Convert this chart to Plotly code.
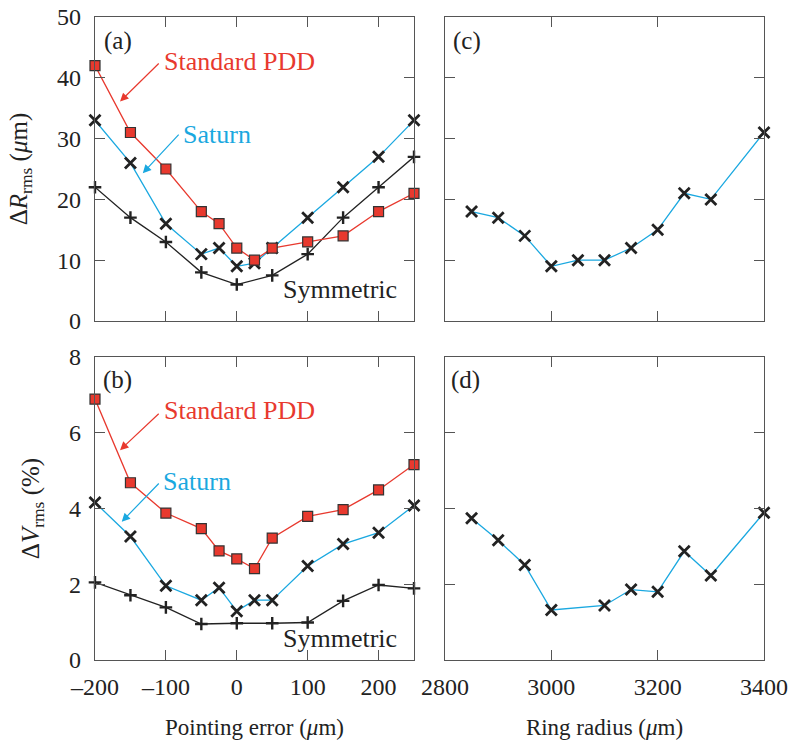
import plotly.graph_objects as go
from plotly.subplots import make_subplots

# ---------------- data ----------------
pe_x = [-200, -150, -100, -50, -25, 0, 25, 50, 100, 150, 200, 250]
sym_x = [-200, -150, -100, -50, 0, 50, 100, 150, 200, 250]

a_pdd = [42, 31, 25, 18, 16, 12, 10, 12, 13, 14, 18, 21]
a_saturn = [33, 26, 16, 11, 12, 9, 9.5, 12, 17, 22, 27, 33]
a_sym = [22, 17, 13, 8, 6, 7.5, 11, 17, 22, 27]

b_pdd = [6.89, 4.68, 3.88, 3.47, 2.88, 2.67, 2.41, 3.22, 3.79, 3.97, 4.49, 5.16]
b_saturn = [4.16, 3.26, 1.96, 1.58, 1.91, 1.29, 1.58, 1.58, 2.48, 3.06, 3.36, 4.08]
b_sym = [2.05, 1.71, 1.39, 0.95, 0.97, 0.97, 0.99, 1.56, 1.98, 1.89]

c_x = [2850, 2900, 2950, 3000, 3050, 3100, 3150, 3200, 3250, 3300, 3400]
c_y = [18, 17, 14, 9, 10, 10, 12, 15, 21, 20, 31]

d_x = [2850, 2900, 2950, 3000, 3100, 3150, 3200, 3250, 3300, 3400]
d_y = [3.74, 3.16, 2.51, 1.32, 1.44, 1.86, 1.80, 2.87, 2.23, 3.89]

pe_ticks = [-200, -100, 0, 100, 200]
pe_ticktext = ["–200", "–100", "0", "100", "200"]
rr_ticks = [2800, 3000, 3200, 3400]

RED = "#e8392e"
BLUE = "#1aa8e0"
BLACK = "#222222"
FONT = "Liberation Serif"

fig = make_subplots(rows=2, cols=2)

def add_pdd(x, y, r, c):
    fig.add_trace(go.Scatter(x=x, y=y, mode="lines+markers",
                             line=dict(color=RED, width=1.3),
                             marker=dict(symbol="square", size=10, color=RED,
                                         line=dict(color="#333333", width=1.2)),
                             cliponaxis=False, showlegend=False), row=r, col=c)

def add_saturn(x, y, r, c):
    fig.add_trace(go.Scatter(x=x, y=y, mode="lines+markers",
                             line=dict(color=BLUE, width=1.3),
                             marker=dict(symbol="x-thin", size=11, color=BLACK,
                                         line=dict(color=BLACK, width=2.8)),
                             cliponaxis=False, showlegend=False), row=r, col=c)

def add_sym(x, y, r, c):
    fig.add_trace(go.Scatter(x=x, y=y, mode="lines+markers",
                             line=dict(color=BLACK, width=1.3),
                             marker=dict(symbol="cross-thin", size=9, color=BLACK,
                                         line=dict(color=BLACK, width=2.4)),
                             cliponaxis=False, showlegend=False), row=r, col=c)

add_sym(sym_x, a_sym, 1, 1)
add_saturn(pe_x, a_saturn, 1, 1)
add_pdd(pe_x, a_pdd, 1, 1)
add_sym(sym_x, b_sym, 2, 1)
add_saturn(pe_x, b_saturn, 2, 1)
add_pdd(pe_x, b_pdd, 2, 1)
add_saturn(c_x, c_y, 1, 2)
add_saturn(d_x, d_y, 2, 2)

# full-window figure 788x744 (body margin removed in post_script)
xl = [95 / 788, 414 / 788]
xr = [445 / 788, 764 / 788]
yt = [1 - 321 / 744, 1 - 17 / 744]
yb = [1 - 660 / 744, 1 - 357 / 744]

common = dict(showline=True, mirror="ticks", ticks="inside", ticklen=10,
              linecolor="#555555", tickcolor="#555555", linewidth=1.2, tickwidth=1.2,
              showgrid=False, zeroline=False, automargin=False,
              ticklabeloverflow="allow",
              tickfont=dict(family=FONT, size=24, color=BLACK))

title_font = dict(family=FONT, size=23, color=BLACK)

fig.update_layout(
    xaxis=dict(domain=xl, range=[-200, 250], tickvals=pe_ticks, ticktext=pe_ticktext,
               showticklabels=False, anchor="y", **common),
    xaxis2=dict(domain=xr, range=[2800, 3400], tickvals=rr_ticks,
                showticklabels=False, anchor="y2", **common),
    xaxis3=dict(domain=xl, range=[-200, 250], tickvals=pe_ticks, ticktext=pe_ticktext,
                anchor="y3", ticklabelstandoff=5,
                title=dict(text="Pointing error (<i>μ</i>m)", font=title_font, standoff=19),
                **common),
    xaxis4=dict(domain=xr, range=[2800, 3400], tickvals=rr_ticks, anchor="y4",
                ticklabelstandoff=5,
                title=dict(text="Ring radius (<i>μ</i>m)", font=title_font, standoff=19),
                **common),
    yaxis=dict(domain=yt, range=[0, 50], dtick=10, anchor="x", ticklabelstandoff=8,
               title=dict(text="Δ<i>R</i><sub>rms</sub> (<i>μ</i>m)", font=dict(family=FONT, size=25, color=BLACK), standoff=22),
               **common),
    yaxis2=dict(domain=yt, range=[0, 50], dtick=10, anchor="x2", showticklabels=False, **common),
    yaxis3=dict(domain=yb, range=[0, 8], dtick=2, anchor="x3", ticklabelstandoff=8,
                title=dict(text="Δ<i>V</i><sub>rms</sub> (%)", font=dict(family=FONT, size=25, color=BLACK), standoff=22),
                **common),
    yaxis4=dict(domain=yb, range=[0, 8], dtick=2, anchor="x4", showticklabels=False, **common),
)

def text_ann(x, y, xref, yref, text, color, size=26):
    fig.add_annotation(x=x, y=y, xref=xref, yref=yref, text=text, showarrow=False,
                       xanchor="left", yanchor="middle",
                       font=dict(family=FONT, size=size, color=color))

def arrow_ann(x, y, ax, ay, xref, yref, color):
    fig.add_annotation(x=x, y=y, ax=ax, ay=ay, xref=xref, yref=yref, axref=xref, ayref=yref,
                       text="", showarrow=True, arrowhead=2, arrowsize=1.4, arrowwidth=1.2,
                       arrowcolor=color, standoff=0)

# panel (a)
text_ann(-190, 46, "x", "y", "(a)", BLACK, 25)
text_ann(-106, 42.6, "x", "y", "Standard PDD", RED)
arrow_ann(-164.7, 36.1, -108, 42.6, "x", "y", RED)
text_ann(-78, 30.6, "x", "y", "Saturn", BLUE)
arrow_ann(-132.6, 24.3, -80, 30.9, "x", "y", BLUE)
text_ann(63, 5.1, "x", "y", "Symmetric", BLACK)

# panel (b)
text_ann(-192, 7.39, "x3", "y3", "(b)", BLACK, 25)
text_ann(-106, 6.6, "x3", "y3", "Standard PDD", RED)
arrow_ann(-164.7, 5.54, -108, 6.54, "x3", "y3", RED)
text_ann(-107, 4.70, "x3", "y3", "Saturn", BLUE)
arrow_ann(-162.3, 3.65, -108, 4.70, "x3", "y3", BLUE)
text_ann(63, 0.58, "x3", "y3", "Symmetric", BLACK)

# panels (c), (d)
text_ann(2812, 46, "x2", "y2", "(c)", BLACK, 25)
text_ann(2808, 7.39, "x4", "y4", "(d)", BLACK, 25)

fig.update_layout(width=788, height=744, template="none",
                  margin=dict(l=0, r=0, t=0, b=0),
                  paper_bgcolor="white", plot_bgcolor="white",
                  font=dict(family=FONT, size=24, color=BLACK))

fig.write_html("out.html", config={"displayModeBar": False},
               post_script="document.body.style.margin='0';document.body.style.overflow='hidden';")
